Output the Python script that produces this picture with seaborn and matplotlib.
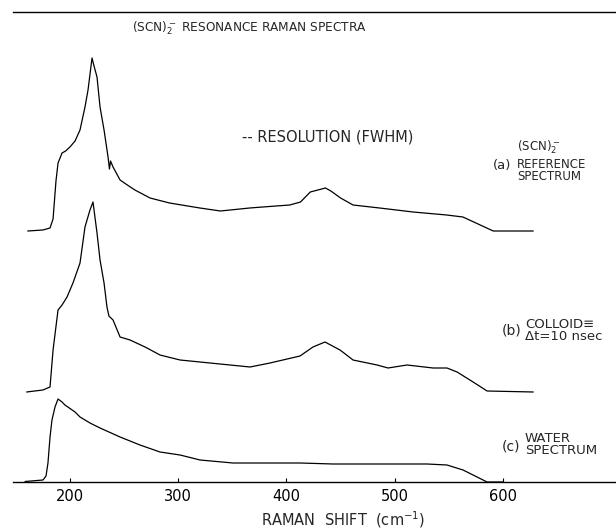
import numpy as np
import pandas as pd
import matplotlib
matplotlib.use("Agg")
import matplotlib.pyplot as plt
import seaborn as sns

# ---- data (Raman shift in cm^-1, intensity in arbitrary units) ----
shift_a = [161, 175, 181.6, 184.4, 187.1, 189, 192.7, 196, 200, 204.7, 209.3, 213.9, 216.7,
           220.4, 222, 225, 227.8, 231.5, 235.2, 236.5, 237.5, 239.8, 246.3, 253, 260, 274,
           292, 320, 339, 366, 378, 403, 413, 422, 436, 441, 450, 461.5, 486, 517, 548, 563,
           591, 628]
inten_a = [0, 1, 3, 12, 50, 68, 78, 80, 84, 90, 101, 124, 141,
           173, 166, 154, 124, 101, 74, 62, 70, 64, 51, 46, 41, 33,
           28, 23, 20, 23, 24, 26, 29, 39, 43, 40, 33, 26, 23, 19, 16, 14,
           0, 0]

shift_b = [160, 175, 181.6, 184.4, 189, 192.7, 197.3, 202.8, 209.3, 213.9, 218.5, 221.3,
           225, 227.8, 231.5, 234.2, 236, 239.8, 246.3, 255.5, 269.4, 283.2, 301.7, 329.4,
           366.4, 384.8, 412.5, 424.5, 435.6, 449.5, 461.5, 483.7, 493.8, 511.4, 535.4,
           548.3, 557.6, 572.4, 585.3, 628]
inten_b = [0, 2, 5, 42, 82, 87, 95, 109, 129, 165, 182, 190,
           159, 132, 109, 85, 76, 72, 55, 52, 45, 37, 32, 29,
           25, 29, 36, 45, 50, 42, 32, 27, 24, 27, 24,
           24, 20, 10, 1, 0]

shift_c = [158.5, 175.1, 177.9, 179.7, 181.6, 183.4, 186.2, 189.0, 192.7, 195.4, 204.7,
           209.3, 218.5, 227.8, 246.3, 264.7, 283.2, 301.7, 320.2, 350.6, 382.1, 412.5,
           443.0, 529.9, 548.3, 563.1, 585.3, 600]
inten_c = [0.5, 2, 6, 19, 45, 62, 75, 83, 80, 77, 70,
           65, 59, 54, 45, 37, 30, 27, 22, 19, 19, 19,
           18, 18, 17, 12, 0, 0]

spectra = ["a", "b", "c"]
offsets = {"a": 251, "b": 90, "c": 0}   # vertical stacking of the traces

x_ticks = [200, 300, 400, 500, 600]
x_label = "RAMAN  SHIFT  (cm$^{-1}$)"
title = "(SCN)$_2^-$ RESONANCE RAMAN SPECTRA"

# ---- build a long table ----
frames = []
for name, xs, ys in zip(spectra, [shift_a, shift_b, shift_c], [inten_a, inten_b, inten_c]):
    frames.append(pd.DataFrame({"shift": xs,
                                "signal": np.asarray(ys, float) + offsets[name],
                                "spectrum": name}))
df = pd.concat(frames, ignore_index=True)

sns.set_style("white")
plt.rcParams["font.family"] = ["DejaVu Sans"]

W, H = 616, 529
fig = plt.figure(figsize=(W / 100, H / 100), dpi=100)
ax = fig.add_axes([13 / W, 1 - 482 / H, 603 / W, 470 / H])

sns.lineplot(data=df, x="shift", y="signal", hue="spectrum",
             palette={"a": "black", "b": "black", "c": "black"},
             estimator=None, sort=False, legend=False, linewidth=0.9, ax=ax)

ax.set_xlim(147.4, 704.4)
ax.set_ylim(0, 470)
ax.set_yticks([])
ax.set_ylabel("")
ax.set_xticks(x_ticks)
ax.set_xticklabels([str(t) for t in x_ticks])
ax.tick_params(axis="x", direction="in", length=3, width=0.8, pad=5,
               labelsize=10.5, colors="black", bottom=True)
for side in ["left", "right"]:
    ax.spines[side].set_visible(False)
for side in ["top", "bottom"]:
    ax.spines[side].set_visible(True)
    ax.spines[side].set_color("black")
    ax.spines[side].set_linewidth(1.0)

ax.set_xlabel(x_label, fontsize=10.5)
ax.xaxis.set_label_coords(0.547, -0.058)


def px(x, y):
    return x / W, 1 - y / H


fig.text(*px(132, 28), title, ha="left", va="center", fontsize=8.7)
fig.text(*px(242, 137), "-- RESOLUTION (FWHM)", ha="left", va="center", fontsize=10.5)

fig.text(*px(493, 166), "(a)", ha="left", va="center", fontsize=9.5)
fig.text(*px(517, 147), "(SCN)$_2^-$", ha="left", va="center", fontsize=8.5)
fig.text(*px(517, 164), "REFERENCE", ha="left", va="center", fontsize=8.5)
fig.text(*px(517, 176), "SPECTRUM", ha="left", va="center", fontsize=8.5)

fig.text(*px(502, 331), "(b)", ha="left", va="center", fontsize=10)
fig.text(*px(525, 324), "COLLOID\u2261", ha="left", va="center", fontsize=9.5)
fig.text(*px(525, 336), "\u0394t=10 nsec", ha="left", va="center", fontsize=9.5)

fig.text(*px(502, 447), "(c)", ha="left", va="center", fontsize=10)
fig.text(*px(525, 438), "WATER", ha="left", va="center", fontsize=9.5)
fig.text(*px(525, 450), "SPECTRUM", ha="left", va="center", fontsize=9.5)

fig.savefig("out.png", dpi=100)
